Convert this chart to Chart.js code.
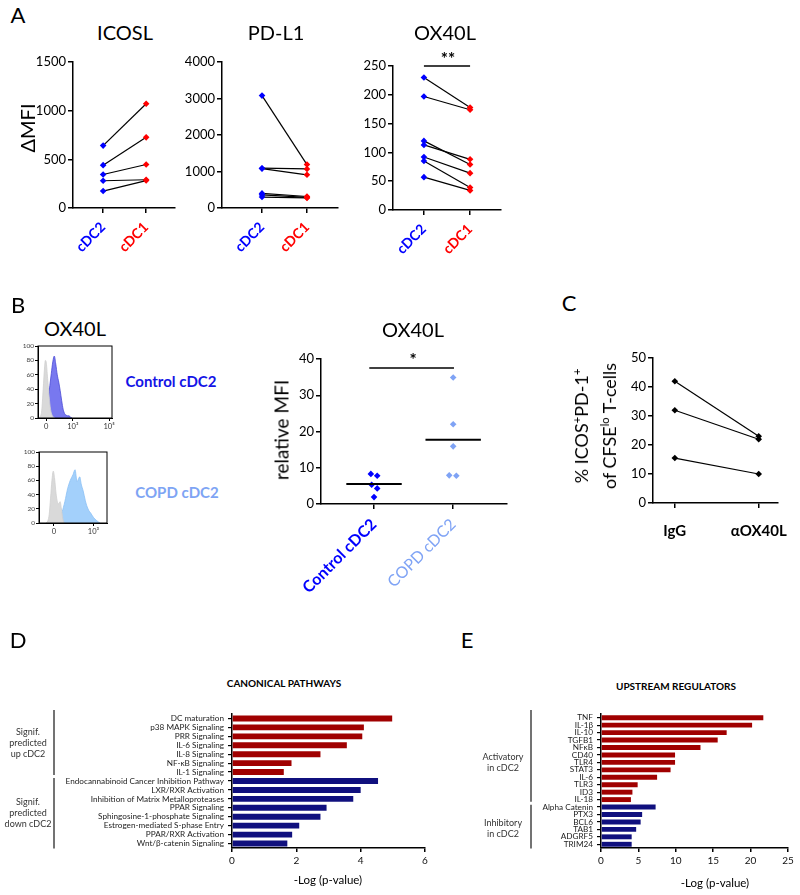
<!DOCTYPE html>
<html lang="en">
<head>
<meta charset="utf-8">
<title>OX40L on cDC2</title>
<script src="https://cdn.jsdelivr.net/npm/chart.js@4.4.1/dist/chart.umd.min.js"></script>
<style>
  html, body { margin: 0; background: #fff; }
  #fig { position: relative; width: 800px; height: 895px; overflow: hidden; font-family: Lato, 'Open Sans', sans-serif; color: #000; }
  .box { position: absolute; }
  .txt { position: absolute; white-space: nowrap; line-height: 1; transform: translate(-50%, -50%); }
  .txt sup { font-size: 0.62em; vertical-align: 0.6em; line-height: 0; }
</style>
</head>
<body>
<div id="fig"></div>
<script>
// ---- A: paired ΔMFI, cDC2 vs cDC1 ----
const pairCategories = ['cDC2', 'cDC1'];
const pairColors = ['#0000ff', '#ff0000'];
const icoslPairs = [[641, 1071], [440, 726], [344, 447], [280, 290], [174, 282]];
const icoslTicks = [0, 500, 1000, 1500];
const pdl1Pairs = [[3080, 1190], [1090, 1070], [1080, 910], [400, 315], [360, 290], [300, 275]];
const pdl1Ticks = [0, 1000, 2000, 3000, 4000];
const ox40lPairs = [[230, 178], [197, 174], [120, 79], [113, 88], [92, 64], [85, 39], [57, 34]];
const ox40lTicks = [0, 50, 100, 150, 200, 250];
const ox40lSigLevel = 250;

// ---- B: histograms, [channel, % of max] ----
const hist1Gray = [[1, 0], [3, 2], [5, 10], [7, 40], [9, 72], [10, 80], [11, 78], [13, 55], [15, 30], [17, 12], [19, 4], [21, 1], [23, 0]];
const hist1Blue = [[2, 0], [4, 1], [6, 2], [8, 4], [10, 7], [12, 14], [14, 28], [16, 45], [18, 62], [20, 78], [22, 86], [24, 75], [26, 60], [28, 50], [30, 38], [32, 24], [34, 12], [36, 6], [38, 4], [40, 3], [42, 3], [44, 1], [46, 0]];
const hist1XTicks = [{ value: 11, label: '0' }, { value: 47, label: '10³' }, { value: 96, label: '10⁵' }];
const hist2Gray = [[10, 0], [13, 3], [15, 12], [17, 35], [19, 60], [21, 73], [23, 62], [25, 42], [27, 30], [29, 27], [31, 30], [33, 20], [35, 6], [37, 0]];
const hist2Blue = [[22, 0], [26, 3], [30, 8], [34, 16], [38, 30], [42, 48], [46, 60], [50, 68], [53, 75], [56, 58], [58, 62], [60, 65], [62, 55], [65, 45], [68, 32], [70, 25], [73, 18], [76, 14], [80, 8], [84, 4], [88, 1], [90, 0]];
const hist2XTicks = [{ value: 22, label: '0' }, { value: 80, label: '10³' }];
const histYTicks = [0, 20, 40, 60, 80, 100];

// ---- B: relative MFI dot plot ----
const groupCategories = ['Control cDC2', 'COPD cDC2'];
const groupColors = ['#0000ff', '#7fa3f5'];
const controlMfi = [8.3, 7.8, 5.3, 4.3, 1.9];
const controlJitter = [-0.04, 0.04, -0.03, 0.04, 0];
const copdMfi = [34.9, 22.0, 15.9, 7.9, 7.8];
const copdJitter = [0, 0, 0, -0.05, 0.04];
const mfiTicks = [0, 10, 20, 30, 40];
const mfiSigLevel = 37.5;

// ---- C: ICOS+PD-1+ T cells ----
const treatmentCategories = ['IgG', 'αOX40L'];
const tfhPairs = [[42, 23], [32, 22], [15.5, 10]];
const tfhTicks = [0, 10, 20, 30, 40, 50];

// ---- D: canonical pathways ----
const pathwaysUp = ['DC maturation', 'p38 MAPK Signaling', 'PRR Signaling', 'IL-6 Signaling', 'IL-8 Signaling', 'NF-κB Signaling', 'IL-1 Signaling'];
const pathwaysUpLog = [4.98, 4.10, 4.05, 3.57, 2.75, 1.85, 1.61];
const pathwaysDown = ['Endocannabinoid Cancer Inhibition Pathway', 'LXR/RXR Activation', 'Inhibition of Matrix Metalloproteases', 'PPAR Signaling', 'Sphingosine-1-phosphate Signaling', 'Estrogen-mediated S-phase Entry', 'PPAR/RXR Activation', 'Wnt/β-catenin Signaling'];
const pathwaysDownLog = [4.54, 4.00, 3.77, 2.94, 2.75, 2.09, 1.87, 1.72];
const pathwayTicks = [0, 2, 4, 6];

// ---- E: upstream regulators ----
const regulatorsActivatory = ['TNF', 'IL-1β', 'IL-10', 'TGFB1', 'NFκB', 'CD40', 'TLR4', 'STAT3', 'IL-6', 'TLR3', 'ID3', 'IL-18'];
const regulatorsActivatoryLog = [21.7, 20.2, 16.8, 15.6, 13.3, 9.9, 9.9, 9.3, 7.5, 4.9, 4.2, 4.0];
const regulatorsInhibitory = ['Alpha Catenin', 'PTX3', 'BCL6', 'TAB1', 'ADGRF5', 'TRIM24'];
const regulatorsInhibitoryLog = [7.3, 5.5, 5.3, 4.7, 4.1, 4.1];
const regulatorTicks = [0, 5, 10, 15, 20, 25];

const upColor = '#a00000';
const downColor = '#10107e';

Chart.defaults.font.family = 'Lato, "Open Sans", sans-serif';
Chart.defaults.color = '#000';

const fig = document.getElementById('fig');

const mount = (area, pad) => {
  const div = document.createElement('div');
  div.className = 'box';
  div.style.left = (area.x - pad.l) + 'px';
  div.style.top = (area.y - pad.t) + 'px';
  div.style.width = (area.w + pad.l + pad.r) + 'px';
  div.style.height = (area.h + pad.t + pad.b) + 'px';
  const canvas = document.createElement('canvas');
  div.appendChild(canvas);
  fig.appendChild(div);
  return canvas;
};

const label = (html, x, y, size, extra = {}) => {
  const el = document.createElement('div');
  el.className = 'txt';
  el.innerHTML = html;
  el.style.left = x + 'px';
  el.style.top = y + 'px';
  el.style.fontSize = size + 'px';
  if (extra.rotate) el.style.transform = `translate(-50%, -50%) rotate(${extra.rotate}deg)`;
  if (extra.weight) el.style.fontWeight = extra.weight;
  if (extra.color) el.style.color = extra.color;
  if (extra.lh) { el.style.lineHeight = extra.lh + 'px'; el.style.textAlign = 'center'; }
  fig.appendChild(el);
};

// pin axis boxes to a fixed size so the plot area lands where we want it
const zeroPad = (s) => { s.paddingTop = 0; s.paddingBottom = 0; s.paddingLeft = 0; s.paddingRight = 0; };
const fixW = (w) => (s) => { s.width = w; zeroPad(s); };
const fixH = (h) => (s) => { s.height = h; zeroPad(s); };
const axisLine = { color: '#000', width: 1.5 };
const tickMarks = (len, width = 1.5) => ({ drawOnChartArea: false, drawTicks: true, tickLength: len, color: '#000', lineWidth: width });

const framePlugin = {
  id: 'frame',
  afterDatasetsDraw(chart) {
    const { ctx, chartArea: a } = chart;
    ctx.save();
    ctx.strokeStyle = '#000';
    ctx.lineWidth = 1;
    ctx.strokeRect(a.left, a.top, a.right - a.left, a.bottom - a.top);
    ctx.restore();
  },
};

const bracketPlugin = {
  id: 'brackets',
  afterDraw(chart, args, opts) {
    if (!opts.groups) return;
    const y = chart.scales.y;
    const ctx = chart.ctx;
    const step = y.getPixelForValue(1) - y.getPixelForValue(0);
    const x = chart.chartArea.left + opts.dx;
    ctx.save();
    ctx.strokeStyle = '#444';
    ctx.lineWidth = 1.5;
    opts.groups.forEach(([a, b], i) => {
      const top = y.getPixelForValue(a) - step * 0.5 + (i ? 1.5 : -4);
      const bottom = y.getPixelForValue(b) + step * 0.5 - 1.5 + (i === opts.groups.length - 1 ? 2 : 0);
      ctx.beginPath();
      ctx.moveTo(x, top);
      ctx.lineTo(x, bottom);
      ctx.stroke();
    });
    ctx.restore();
  },
};

const pairLines = (pairs, colors) => pairs.map((p) => ({
  data: p.map((v, i) => ({ x: i, y: v })),
  borderColor: '#000',
  borderWidth: 1.2,
  pointStyle: 'rectRot',
  pointRadius: 3.3,
  pointBorderWidth: 0,
  pointBackgroundColor: colors,
  pointBorderColor: colors,
  clip: false,
}));

const flatLine = (x0, x1, level, width = 1.5) => ({
  data: [{ x: x0, y: level }, { x: x1, y: level }],
  borderColor: '#000',
  borderWidth: width,
  pointRadius: 0,
  clip: false,
});

function categoryPlot({ area, xRange, cats, catColors, catFont, yTicks, datasets, rotation = 45, tickPad = 4 }) {
  const pad = { l: 58, t: 14, r: 10, b: 100 };
  const canvas = mount(area, pad);
  return new Chart(canvas, {
    type: 'line',
    data: { datasets },
    options: {
      responsive: true,
      maintainAspectRatio: false,
      animation: false,
      layout: { padding: { left: 4, top: pad.t, right: pad.r, bottom: 4 } },
      plugins: { legend: { display: false }, tooltip: { enabled: false } },
      scales: {
        x: {
          type: 'linear',
          min: xRange[0],
          max: xRange[1],
          afterBuildTicks: (s) => { s.ticks = cats.map((c, i) => ({ value: i })); },
          afterFit: fixH(pad.b - 4),
          border: axisLine,
          grid: tickMarks(5),
          ticks: {
            autoSkip: false,
            minRotation: rotation,
            maxRotation: rotation,
            padding: tickPad,
            color: (c) => catColors[c.index],
            font: (c) => catFont[c.index],
            callback: (v) => cats[v],
          },
        },
        y: {
          type: 'linear',
          min: yTicks[0],
          max: yTicks[yTicks.length - 1],
          afterBuildTicks: (s) => { s.ticks = yTicks.map((v) => ({ value: v })); },
          afterFit: fixW(pad.l - 4),
          border: axisLine,
          grid: tickMarks(5),
          ticks: { padding: 2, color: '#000', font: { size: 13 }, callback: (v) => String(v) },
        },
      },
    },
  });
}

function histPlot({ area, gray, blue, blueFill, blueEdge, xTicks }) {
  const pad = { l: 26, t: 6, r: 4, b: 22 };
  const canvas = mount(area, pad);
  const series = [
    { points: gray, fill: '#d9d9d9', edge: '#cfcfcf' },
    { points: blue, fill: blueFill, edge: blueEdge },
  ];
  return new Chart(canvas, {
    type: 'line',
    data: {
      datasets: series.map((s) => ({
        data: s.points.map(([x, y]) => ({ x, y })),
        fill: 'origin',
        backgroundColor: s.fill,
        borderColor: s.edge,
        borderWidth: 0.8,
        pointRadius: 0,
        cubicInterpolationMode: 'monotone',
      })),
    },
    options: {
      responsive: true,
      maintainAspectRatio: false,
      animation: false,
      layout: { padding: { left: 2, top: pad.t, right: pad.r, bottom: 2 } },
      plugins: { legend: { display: false }, tooltip: { enabled: false } },
      scales: {
        x: {
          type: 'linear',
          min: 0,
          max: 100,
          afterBuildTicks: (s) => { s.ticks = xTicks.map((t) => ({ value: t.value })); },
          afterFit: fixH(pad.b - 2),
          border: { color: '#000', width: 1 },
          grid: tickMarks(3, 1),
          ticks: { autoSkip: false, maxRotation: 0, padding: 1, color: '#333', font: { size: 7.5 }, callback: (v, i) => xTicks[i].label },
        },
        y: {
          type: 'linear',
          min: 0,
          max: 100,
          afterBuildTicks: (s) => { s.ticks = histYTicks.map((v) => ({ value: v })); },
          afterFit: fixW(pad.l - 2),
          border: { color: '#000', width: 1 },
          grid: tickMarks(3, 1),
          ticks: { padding: 1, color: '#444', font: { size: 6.5 }, callback: (v) => String(v) },
        },
      },
    },
    plugins: [framePlugin],
  });
}

function barPlot({ area, canvasLeft, canvasRight, groups, xTicks, bracketDx, fontSize }) {
  const labels = groups.flatMap((g) => g.labels);
  const values = groups.flatMap((g) => g.values);
  const colors = groups.flatMap((g) => g.values.map(() => g.color));
  const spans = [];
  let start = 0;
  groups.forEach((g) => { spans.push([start, start + g.labels.length - 1]); start += g.labels.length; });
  const pad = { l: area.x - canvasLeft, t: 8, r: canvasRight - area.x - area.w, b: 26 };
  const canvas = mount(area, pad);
  return new Chart(canvas, {
    type: 'bar',
    data: { labels, datasets: [{ data: values, backgroundColor: colors, barPercentage: 0.66, categoryPercentage: 1 }] },
    options: {
      indexAxis: 'y',
      responsive: true,
      maintainAspectRatio: false,
      animation: false,
      layout: { padding: { left: 4, top: pad.t, right: pad.r, bottom: 2 } },
      plugins: { legend: { display: false }, tooltip: { enabled: false }, brackets: { dx: bracketDx, groups: spans } },
      scales: {
        x: {
          type: 'linear',
          min: xTicks[0],
          max: xTicks[xTicks.length - 1],
          afterBuildTicks: (s) => { s.ticks = xTicks.map((v) => ({ value: v })); },
          afterFit: fixH(pad.b - 2),
          border: { color: '#000', width: 1.5 },
          grid: tickMarks(4),
          ticks: { padding: 3, color: '#111', font: { size: 10 } },
        },
        y: {
          type: 'category',
          offset: true,
          afterFit: fixW(pad.l - 4),
          border: { color: '#000', width: 1.5 },
          grid: { ...tickMarks(4, 1.2), offset: false },
          ticks: { autoSkip: false, padding: 4, color: '#222', font: { size: fontSize } },
        },
      },
    },
    plugins: [bracketPlugin],
  });
}

// ---------- panel A ----------
const boldCat = { size: 14, weight: 'bold' };
categoryPlot({
  area: { x: 73, y: 62, w: 102, h: 146 },
  xRange: [-0.70, 1.67],
  cats: pairCategories, catColors: pairColors, catFont: [boldCat, boldCat],
  yTicks: icoslTicks,
  tickPad: 6,
  datasets: pairLines(icoslPairs, pairColors),
});
categoryPlot({
  area: { x: 222, y: 62, w: 116, h: 146 },
  xRange: [-0.89, 1.69],
  cats: pairCategories, catColors: pairColors, catFont: [boldCat, boldCat],
  yTicks: pdl1Ticks,
  tickPad: 6,
  datasets: pairLines(pdl1Pairs, pairColors),
});
categoryPlot({
  area: { x: 393, y: 66, w: 108, h: 144 },
  xRange: [-0.67, 1.67],
  cats: pairCategories, catColors: pairColors, catFont: [boldCat, boldCat],
  yTicks: ox40lTicks,
  tickPad: 6,
  datasets: [flatLine(0, 1, ox40lSigLevel), ...pairLines(ox40lPairs, pairColors)],
});

label('A', 18, 15, 22);
label('ICOSL', 125, 32, 20);
label('PD-L1', 276, 32, 20);
label('OX40L', 445, 32, 20);
label('ΔMFI', 27, 128, 20, { rotate: -90 });
label('**', 448, 58, 17, { weight: 'bold' });

// ---------- panel B ----------
histPlot({ area: { x: 38, y: 346, w: 74, h: 72 }, gray: hist1Gray, blue: hist1Blue, blueFill: 'rgba(96, 96, 236, 0.85)', blueEdge: '#4a4ad6', xTicks: hist1XTicks });
histPlot({ area: { x: 39, y: 452, w: 68, h: 71 }, gray: hist2Gray, blue: hist2Blue, blueFill: 'rgba(150, 202, 250, 0.88)', blueEdge: '#8cc0f5', xTicks: hist2XTicks });

const meanOf = (arr) => arr.reduce((a, b) => a + b, 0) / arr.length;
const meanHalf = 0.35;
categoryPlot({
  area: { x: 321, y: 359, w: 186, h: 145 },
  xRange: [-0.67, 1.68],
  cats: groupCategories, catColors: groupColors,
  catFont: [{ size: 16, weight: 'bold' }, { size: 16 }],
  yTicks: mfiTicks,
  tickPad: 6,
  datasets: [
    flatLine(-0.06, 1.01, mfiSigLevel),
    flatLine(-meanHalf, meanHalf, meanOf(controlMfi), 2),
    flatLine(1 - meanHalf, 1 + meanHalf, meanOf(copdMfi), 2),
    {
      data: controlMfi.map((v, i) => ({ x: controlJitter[i], y: v })),
      showLine: false, pointStyle: 'rectRot', pointRadius: 3.3, pointBorderWidth: 0,
      pointBackgroundColor: groupColors[0], clip: false,
    },
    {
      data: copdMfi.map((v, i) => ({ x: 1 + copdJitter[i], y: v })),
      showLine: false, pointStyle: 'rectRot', pointRadius: 3.3, pointBorderWidth: 0,
      pointBackgroundColor: groupColors[1], clip: false,
    },
  ],
});

label('B', 18, 305, 22);
label('OX40L', 75, 328, 20);
label('Control cDC2', 171, 381, 15, { weight: 'bold', color: '#1414e6' });
label('COPD cDC2', 177, 492, 15, { weight: 'bold', color: '#7ea4f4' });
label('OX40L', 413, 329, 20);
label('relative MFI', 281, 430, 19, { rotate: -90 });
label('*', 413, 359, 17, { weight: 'bold' });

// ---------- panel C ----------
categoryPlot({
  area: { x: 653, y: 358, w: 125, h: 145 },
  xRange: [-0.26, 1.23],
  cats: treatmentCategories, catColors: ['#000', '#000'],
  catFont: [{ size: 15, weight: 'bold' }, { size: 15, weight: 'bold' }],
  yTicks: tfhTicks,
  rotation: 0,
  tickPad: 14,
  datasets: pairLines(tfhPairs, ['#000', '#000']),
});

label('C', 569, 303, 22);
label('% ICOS<sup>+</sup>PD-1<sup>+</sup><br>of CFSE<sup>lo</sup> T-cells', 595, 426, 18, { rotate: -90, lh: 28 });

// ---------- panel D ----------
barPlot({
  area: { x: 232, y: 714, w: 193, h: 134 },
  canvasLeft: 0, canvasRight: 438,
  groups: [
    { labels: pathwaysUp, values: pathwaysUpLog, color: upColor },
    { labels: pathwaysDown, values: pathwaysDownLog, color: downColor },
  ],
  xTicks: pathwayTicks,
  bracketDx: -178,
  fontSize: 8.2,
});

label('D', 18, 640, 22);
label('CANONICAL PATHWAYS', 284, 683, 10, { weight: 'bold' });
label('-Log (p-value)', 328, 880, 11.5);
label('Signif.<br>predicted<br>up cDC2', 28, 742, 9, { lh: 11, color: '#333' });
label('Signif.<br>predicted<br>down cDC2', 28, 812, 9, { lh: 11, color: '#333' });

// ---------- panel E ----------
barPlot({
  area: { x: 601, y: 714, w: 187, h: 134 },
  canvasLeft: 440, canvasRight: 798,
  groups: [
    { labels: regulatorsActivatory, values: regulatorsActivatoryLog, color: upColor },
    { labels: regulatorsInhibitory, values: regulatorsInhibitoryLog, color: downColor },
  ],
  xTicks: regulatorTicks,
  bracketDx: -70,
  fontSize: 8.2,
});

label('E', 467, 640, 22);
label('UPSTREAM REGULATORS', 676, 686, 10, { weight: 'bold' });
label('-Log (p-value)', 715, 883, 11.5);
label('Activatory<br>in cDC2', 503, 762, 9, { lh: 11, color: '#333' });
label('Inhibitory<br>in cDC2', 503, 828, 9, { lh: 11, color: '#333' });
</script>
</body>
</html>
